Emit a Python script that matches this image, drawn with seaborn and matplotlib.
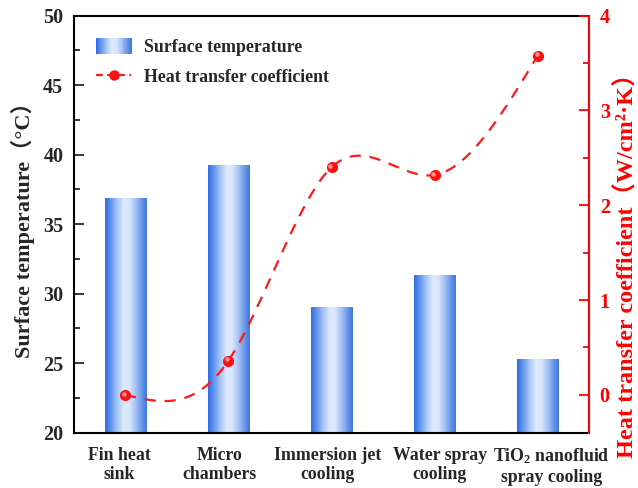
import numpy as np
import pandas as pd
import matplotlib
matplotlib.use("Agg")
import matplotlib.pyplot as plt
import seaborn as sns
from matplotlib.colors import LinearSegmentedColormap
from matplotlib.patches import Rectangle
from matplotlib.legend_handler import HandlerBase
from matplotlib.lines import Line2D
from matplotlib.transforms import ScaledTranslation

categories = ["Fin heat\nsink", "Micro\nchambers", "Immersion jet\ncooling",
              "Water spray\ncooling", "TiO$_2$ nanofluid\nspray cooling"]
surface_temp = [36.85, 39.25, 29.0, 31.35, 25.3]
htc = [0.0, 0.36, 2.40, 2.32, 3.58]
left_ticks = [20, 25, 30, 35, 40, 45, 50]
right_ticks = [0, 1, 2, 3, 4]

sns.set_style("white")
plt.rcParams["font.family"] = ["Liberation Serif", "Noto Sans CJK SC"]
plt.rcParams["font.weight"] = "bold"
plt.rcParams["mathtext.fontset"] = "custom"
plt.rcParams["mathtext.rm"] = "Liberation Serif:bold"
plt.rcParams["mathtext.it"] = "Liberation Serif:bold"
plt.rcParams["mathtext.bf"] = "Liberation Serif:bold"
plt.rcParams["mathtext.default"] = "rm"

cmap = LinearSegmentedColormap.from_list("bargrad", [
    (0.0, "#2f6ce0"), (0.12, "#5a8fea"), (0.30, "#a9c6f5"), (0.45, "#dde9fd"),
    (0.58, "#d9e7fc"), (0.75, "#9dbdf2"), (0.90, "#5f90e8"), (1.0, "#3f78e2")])

YMIN, YMAX = 20, 50

fig = plt.figure(figsize=(6.38, 4.88), dpi=100)
ax = fig.add_axes([0.1155, 0.1133, 0.9237 - 0.1155, 0.9678 - 0.1133])

df = pd.DataFrame({"cat": categories, "temp": surface_temp})
sns.barplot(data=df, x="cat", y="temp", ax=ax, width=0.4, color="#3f78e2",
            edgecolor="none", saturation=1, zorder=2)

grad = np.linspace(0, 1, 256).reshape(1, -1)
for p in list(ax.patches):
    x0, y0 = p.get_x(), p.get_y()
    w, h = p.get_width(), p.get_height()
    p.set_facecolor("none")
    lo = max(y0, YMIN)
    ax.imshow(grad, cmap=cmap, extent=[x0, x0 + w, lo, y0 + h],
              aspect="auto", zorder=2, interpolation="bilinear")

ax.set_xlim(-0.5, 4.5)
ax.set_ylim(YMIN, YMAX)
ax.set_yticks(left_ticks)
ax.set_yticks(np.arange(22.5, 50, 5), minor=True)
ax.tick_params(axis="y", which="major", direction="in", length=7, width=1.3,
               labelsize=14.5, pad=7.5, left=True)
ax.tick_params(axis="y", which="minor", direction="in", length=4, width=1.3, left=True)
ax.tick_params(axis="x", which="major", direction="in", length=7, width=1.3,
               labelsize=12.8, pad=10, bottom=True)
for lab in ax.get_yticklabels() + ax.get_xticklabels():
    lab.set_fontweight("bold")
label_shift_px = [-6, -9, -4, 5, 14]
for lab, dx in zip(ax.get_xticklabels(), label_shift_px):
    lab.set_transform(lab.get_transform() +
                      ScaledTranslation(dx / 100, 0, fig.dpi_scale_trans))
ax.set_xlabel("")
ax.set_ylabel("Surface temperature（°C）", fontsize=16, fontweight="bold", labelpad=6)
for s in ["left", "bottom", "top"]:
    ax.spines[s].set_color("black")
    ax.spines[s].set_linewidth(1.5)
ax.spines["right"].set_visible(False)

ax2 = ax.twinx()
x = np.arange(len(htc), dtype=float)
y = np.array(htc)

def natural_spline(xk, yk, xs):
    n = len(xk)
    h = np.diff(xk)
    A = np.zeros((n, n))
    b = np.zeros(n)
    A[0, 0] = 1
    A[-1, -1] = 1
    for i in range(1, n - 1):
        A[i, i - 1] = h[i - 1]
        A[i, i] = 2 * (h[i - 1] + h[i])
        A[i, i + 1] = h[i]
        b[i] = 6 * ((yk[i + 1] - yk[i]) / h[i] - (yk[i] - yk[i - 1]) / h[i - 1])
    M = np.linalg.solve(A, b)
    out = np.empty_like(xs)
    for j, xv in enumerate(xs):
        i = min(max(np.searchsorted(xk, xv) - 1, 0), n - 2)
        t1 = xk[i + 1] - xv
        t0 = xv - xk[i]
        out[j] = (M[i] * t1 ** 3 + M[i + 1] * t0 ** 3) / (6 * h[i]) \
            + (yk[i] / h[i] - M[i] * h[i] / 6) * t1 \
            + (yk[i + 1] / h[i] - M[i + 1] * h[i] / 6) * t0
    return out

xs = np.linspace(0, 4, 300)
ys = natural_spline(x, y, xs)
sns.lineplot(x=xs, y=ys, ax=ax2, color="#ff1a1a", linewidth=1.6,
             linestyle=(0, (5, 4)), zorder=3)
ax2.plot(x, y, "o", color="#ff1010", markersize=7, zorder=4)
hl = ScaledTranslation(-1.2 / 100, 1.2 / 100, fig.dpi_scale_trans)
ax2.plot(x, y, "o", color="#ff9a9a", markersize=2.2, zorder=5,
         transform=ax2.transData + hl)

ax2.set_ylim(-0.4, 4)
ax2.set_yticks(right_ticks)
ax2.set_yticks(np.arange(0.5, 4, 1.0), minor=True)
ax2.tick_params(axis="y", which="major", direction="in", length=7, width=1.3,
                labelsize=14.5, colors="#ff0000", pad=7.5, right=True)
ax2.tick_params(axis="y", which="minor", direction="in", length=4, width=1.3,
                colors="#ff0000", right=True)
for lab in ax2.get_yticklabels():
    lab.set_fontweight("bold")
ax2.set_ylabel("Heat transfer coefficient（W/cm²·K）", fontsize=17.5,
               fontweight="bold", color="#ff0000")
ax2.yaxis.set_label_coords(1.051, 0.415)
ax2.spines["right"].set_color("#ff0000")
ax2.spines["right"].set_linewidth(1.5)
for s in ["left", "bottom", "top"]:
    ax2.spines[s].set_visible(False)
ax2.grid(False)
ax.grid(False)


class GradHandler(HandlerBase):
    def create_artists(self, legend, orig_handle, xdescent, ydescent,
                       width, height, fontsize, trans):
        arts = []
        N = 40
        hh = height * 1.35
        y0 = -ydescent - (hh - height) / 2
        for i in range(N):
            r = Rectangle((-xdescent + width * i / N, y0), width / N * 1.1, hh,
                          facecolor=cmap((i + 0.5) / N), edgecolor="none",
                          transform=trans)
            arts.append(r)
        return arts


bar_handle = Rectangle((0, 0), 1, 1)
line_handle = Line2D([], [], color="#ff1a1a", linestyle=(0, (3, 2)), linewidth=1.6,
                     marker="o", markersize=6.5, markerfacecolor="#ff1010",
                     markeredgecolor="#ff1010")
leg = ax2.legend([bar_handle, line_handle],
                 ["Surface temperature", "Heat transfer coefficient"],
                 handler_map={bar_handle: GradHandler()},
                 loc="upper left", bbox_to_anchor=(0.012, 0.982), frameon=False,
                 prop={"family": "Liberation Serif", "weight": "bold", "size": 12.8},
                 handlelength=2.0, handletextpad=0.7, labelspacing=0.7)

fig.savefig("out.png", dpi=100)
